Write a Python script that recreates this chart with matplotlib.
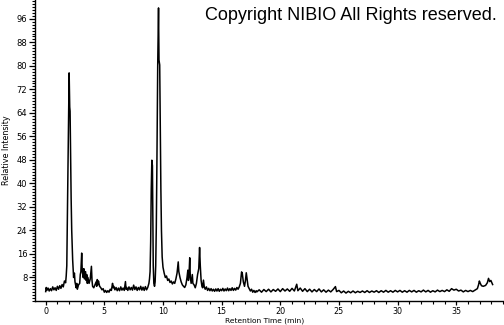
import numpy as np
import matplotlib
matplotlib.use("Agg")
import matplotlib.pyplot as plt
from matplotlib.ticker import MultipleLocator, FixedLocator

# Chromatogram trace (retention time in min, relative intensity)
# 0 - 8.8 min: first big peak and early bumps
rt_early = [0.0, 0.05, 0.1, 0.2, 0.3, 0.4, 0.5, 0.6, 0.7, 0.8, 0.9, 1.0, 1.1, 1.2, 1.3, 1.4,
            1.5, 1.6, 1.7, 1.75, 1.8, 1.85, 1.9, 1.95, 2.0, 2.05, 2.08, 2.12, 2.17, 2.22, 2.3,
            2.38, 2.45, 2.5, 2.6, 2.65, 2.7, 2.8, 2.9, 2.95, 3.0, 3.07, 3.12, 3.2, 3.25, 3.3,
            3.4, 3.45, 3.5, 3.55, 3.6, 3.7, 3.8, 3.9, 3.95, 4.0, 4.1, 4.2, 4.3, 4.35, 4.4, 4.45,
            4.5, 4.6, 4.7, 4.8, 4.9, 5.0, 5.1, 5.2, 5.3, 5.4, 5.5, 5.6, 5.7, 5.75, 5.8, 5.9,
            6.0, 6.1, 6.2, 6.3, 6.4, 6.5, 6.6, 6.7, 6.8, 6.85, 6.9, 7.0, 7.1, 7.2, 7.3, 7.4,
            7.5, 7.6, 7.7, 7.8, 7.9, 8.0, 8.1, 8.2, 8.3, 8.4, 8.5, 8.6, 8.7, 8.8]
int_early = [3.2, 4.6, 3.6, 4.4, 3.4, 4.2, 3.5, 4.8, 3.8, 4.5, 3.6, 5.0, 4.0, 5.2, 4.3, 5.6,
             4.8, 6.8, 6.2, 8.5, 12, 30, 45, 60, 77.6, 66, 64.6, 50, 35, 24, 14,
             8, 9.5, 6.5, 4.5, 6, 4, 5.5, 6, 9, 10, 16.3, 10, 8, 11, 7.5,
             10, 7, 9, 6, 8, 6, 7.5, 11.8, 7, 5, 4.5, 5.5, 6.5, 5, 7.3, 5.5,
             6.8, 5, 4.5, 3.8, 4.2, 3.0, 3.6, 2.9, 3.5, 3.0, 4.0, 3.6, 6.0, 4.5, 5.0, 3.8,
             4.6, 3.5, 4.4, 3.5, 4.8, 3.7, 4.4, 3.6, 6.6, 4.0, 4.6, 3.6, 4.8, 3.8, 4.6, 3.7,
             5.4, 3.9, 4.8, 3.6, 4.6, 3.8, 5.0, 3.7, 4.7, 3.6, 4.9, 3.8, 4.6, 6.0]

# 8.85 - 18 min: main peaks
rt_mid = [8.85, 8.9, 8.95, 9.0, 9.05, 9.1, 9.13, 9.17, 9.22, 9.28, 9.33, 9.38, 9.43, 9.48,
          9.55, 9.62, 9.66, 9.72, 9.77, 9.82, 9.87, 9.93, 10.0, 10.1, 10.2, 10.3, 10.4, 10.5,
          10.6, 10.7, 10.8, 10.9, 11.0, 11.1, 11.2, 11.3, 11.35, 11.45, 11.55, 11.65, 11.75,
          11.85, 11.95, 12.05, 12.12, 12.17, 12.22, 12.28, 12.33, 12.4, 12.5, 12.55, 12.65,
          12.75, 12.85, 12.95, 13.05, 13.12, 13.18, 13.25, 13.32, 13.38, 13.45, 13.52, 13.6,
          13.7, 13.8, 13.9, 14.0, 14.1, 14.2, 14.3, 14.4, 14.5, 14.6, 14.7, 14.8, 14.9, 15.0,
          15.1, 15.2, 15.3, 15.4, 15.5, 15.6, 15.7, 15.8, 15.9, 16.0, 16.1, 16.2, 16.3, 16.4,
          16.5, 16.6, 16.7, 16.76, 16.85, 16.95, 17.03, 17.1, 17.18, 17.25, 17.35, 17.45,
          17.55, 17.65, 17.75, 17.85, 17.95]
int_mid = [7.5, 10, 20, 38, 47.9, 46, 30, 12, 6, 5.0, 6.5, 12, 25, 46,
           80, 99.7, 82, 80.3, 60, 38, 24, 15, 11.5, 9.5, 8.0, 8.5, 7.0, 7.5,
           6.3, 6.8, 5.8, 6.5, 6.0, 7.5, 9.5, 13.3, 10, 8, 6.5, 5.5, 5.0,
           4.6, 5.5, 8, 10.5, 7, 9, 14.7, 8, 6, 9, 6, 5.5,
           4.5, 6, 9, 11, 18.2, 12, 7, 5, 4.5, 7.1, 4.8, 4.0,
           4.8, 3.6, 4.3, 3.5, 4.2, 3.4, 4.0, 3.3, 4.1, 3.4, 4.2, 3.3, 4.0, 3.5,
           4.3, 3.4, 4.1, 3.5, 4.4, 3.5, 4.2, 3.6, 4.5, 3.6, 4.3, 3.7, 4.6, 4.0,
           4.8, 6, 9.9, 9.4, 6.5, 5, 7, 9.6, 7, 5, 4.2, 3.4,
           4.0, 3.0, 3.6, 2.9, 3.5]

# 18 - 38.1 min: flat tail
rt_late = [18.0, 18.2, 18.4, 18.6, 18.8, 19.0, 19.2, 19.4, 19.6, 19.8, 20.0, 20.2, 20.4, 20.6,
           20.8, 21.0, 21.2, 21.4, 21.5, 21.7, 21.9, 22.1, 22.3, 22.5, 22.7, 22.9, 23.1, 23.3,
           23.5, 23.7, 23.9, 24.1, 24.3, 24.5, 24.7, 24.8, 25.0, 25.2, 25.4, 25.6, 25.8, 26.0,
           26.2, 26.4, 26.6, 26.8, 27.0, 27.2, 27.4, 27.6, 27.8, 28.0, 28.2, 28.4, 28.6, 28.8,
           29.0, 29.2, 29.4, 29.6, 29.8, 30.0, 30.2, 30.4, 30.6, 30.8, 31.0, 31.2, 31.4, 31.6,
           31.8, 32.0, 32.2, 32.4, 32.6, 32.8, 33.0, 33.2, 33.4, 33.6, 33.8, 34.0, 34.2, 34.4,
           34.6, 34.8, 35.0, 35.2, 35.4, 35.6, 35.8, 36.0, 36.2, 36.4, 36.6, 36.8, 36.9, 36.97,
           37.05, 37.15, 37.3, 37.5, 37.65, 37.75, 37.85, 37.95, 38.05, 38.1]
int_late = [3.1, 3.8, 3.0, 3.9, 3.2, 4.0, 3.1, 3.9, 3.3, 4.1, 3.2, 4.2, 3.4, 4.1,
            3.3, 4.3, 3.4, 5.7, 3.5, 4.4, 3.3, 4.2, 3.2, 4.0, 3.1, 3.9, 3.2, 4.1,
            3.1, 3.8, 3.0, 3.7, 3.1, 3.9, 4.9, 3.2, 3.6, 2.8, 3.4, 2.7, 3.3, 2.8,
            3.4, 2.8, 3.3, 2.9, 3.4, 2.9, 3.5, 2.9, 3.4, 3.0, 3.5, 2.9, 3.5, 3.0,
            3.6, 3.0, 3.5, 3.0, 3.6, 3.1, 3.6, 3.0, 3.5, 3.0, 3.6, 3.1, 3.6, 3.0,
            3.5, 3.1, 3.7, 3.1, 3.6, 3.0, 3.5, 3.1, 3.7, 3.2, 3.6, 3.2, 3.8, 3.3,
            4.2, 3.7, 4.0, 3.4, 3.7, 3.1, 3.6, 3.2, 3.6, 3.2, 3.7, 4.2, 5.5, 6.8,
            6.0, 5.2, 5.0, 5.3, 6.2, 7.7, 6.6, 7.0, 6.0, 5.6]

y_ticks = [8, 16, 24, 32, 40, 48, 56, 64, 72, 80, 88, 96]

rt = rt_early + rt_mid + rt_late
intensity = int_early + int_mid + int_late

tick_font = ['Liberation Sans Narrow', 'DejaVu Sans Condensed', 'DejaVu Sans']

fig = plt.figure(figsize=(5.04, 3.25), dpi=100)
ax = fig.add_axes([35 / 504, 24 / 325, 469 / 504, 301 / 325])

ax.plot(rt, intensity, color='black', lw=1.1)

ax.set_xlim(-0.91, 39.07)
ax.set_ylim(0, 102.4)

ax.xaxis.set_major_locator(MultipleLocator(5))
ax.xaxis.set_minor_locator(MultipleLocator(1))
ax.yaxis.set_major_locator(FixedLocator(y_ticks))
ax.yaxis.set_minor_locator(MultipleLocator(1))

ax.spines['top'].set_visible(False)
ax.spines['right'].set_visible(False)
for s in ['left', 'bottom']:
    ax.spines[s].set_linewidth(1.0)

ax.tick_params(axis='y', which='major', length=4, width=0.9, pad=1.5, labelsize=6)
ax.tick_params(axis='x', which='major', length=3, width=0.9, pad=1, labelsize=5.8)
ax.tick_params(axis='both', which='minor', length=2.5, width=0.8)
for lbl in ax.get_xticklabels() + ax.get_yticklabels():
    lbl.set_family(tick_font)

ax.set_xlabel('Retention Time (min)', fontsize=5.4, family=tick_font)
ax.xaxis.set_label_coords(0.49, -0.0641)
ax.xaxis.label.set_va('center')
ax.set_ylabel('Relative Intensity', fontsize=5.8, family=tick_font)
ax.yaxis.set_label_coords(-0.06, 0.5)
ax.yaxis.label.set_va('center')

fig.text(205 / 504, 1 - 20 / 325, 'Copyright NIBIO All Rights reserved.',
         fontsize=13, family=['Liberation Sans', 'DejaVu Sans'],
         ha='left', va='baseline')

fig.savefig('out.png', dpi=100, facecolor='white')
